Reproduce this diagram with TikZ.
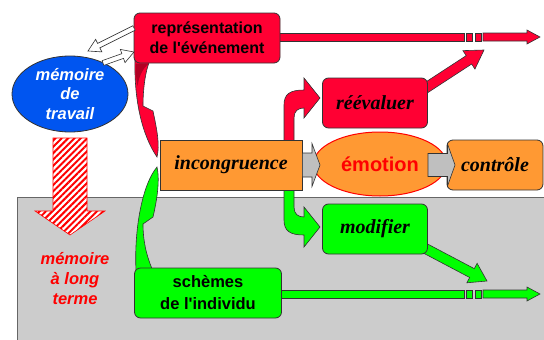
\documentclass[tikz,border=0pt]{standalone}
\usepackage{fontspec}
\setmainfont{Liberation Serif}
\setsansfont{Liberation Sans}
\usetikzlibrary{calc,shapes.geometric,patterns.meta,backgrounds}

\definecolor{alarm}{RGB}{255,0,51}
\definecolor{peach}{RGB}{255,153,51}
\definecolor{leaf}{RGB}{0,255,0}
\definecolor{sky}{RGB}{0,85,240}
\definecolor{ltmgray}{RGB}{204,204,204}

% block arrow: [style]{from}{to}{half shaft}{half head}{head length}
\newcommand{\blockarrow}[6][]{%
  \coordinate (hb) at ($(#3)!#6!(#2)$);
  \filldraw[#1] ($(#2)!#4!90:(#3)$) -- ($(hb)!#4!90:(#3)$) -- ($(hb)!#5!90:(#3)$) -- (#3)
    -- ($(hb)!#5!-90:(#3)$) -- ($(hb)!#4!-90:(#3)$) -- ($(#2)!#4!-90:(#3)$) -- cycle;}

\begin{document}
\begin{tikzpicture}[x=1pt, y=-1pt,
    box/.style={rectangle, rounded corners=6pt, minimum height=50pt, draw=black!80, line width=0.8pt, align=center, inner sep=1pt},
    sanstext/.style={font=\sffamily\bfseries\fontsize{16}{20}\selectfont},
    seriftext/.style={font=\bfseries\itshape\fontsize{20}{24}\selectfont},
    outline/.style={draw=black!80, line width=0.6pt}
]
\useasboundingbox (0,0) rectangle (544,340);

\node (rep) [box, sanstext, fill=alarm, minimum width=146pt] at (207,38) {représentation\\de l\textquotesingle événement};
\node (mem) [ellipse, draw=black!80, line width=0.8pt, fill=sky, minimum width=116pt, minimum height=76pt, inner sep=0pt, align=center, text=white, font=\sffamily\bfseries\itshape\fontsize{16.5}{19.5}\selectfont] at (70,94) {mémoire\\de\\travail};
\node (incong) [box, seriftext, sharp corners, fill=peach, minimum width=142pt] at (231,165) {incongruence};
\node (emo) [ellipse, draw=red, line width=1pt, fill=peach, minimum width=133pt, minimum height=64pt, inner sep=0pt, text=red, font=\sffamily\bfseries\fontsize{20}{24}\selectfont] at (380,164) {émotion};
\node (ctrl) [box, seriftext, fill=peach, minimum width=96pt] at (495,165) {contrôle};
\node (reev) [box, seriftext, fill=alarm, minimum width=105pt] at (375,103) {réévaluer};
\node (modif) [box, seriftext, fill=leaf, minimum width=105pt] at (375,229) {modifier};
\node (schemes) [box, sanstext, fill=leaf, minimum width=147pt, font=\sffamily\bfseries\fontsize{16.5}{22}\selectfont] at (208,293) {schèmes\\de l\textquotesingle individu};
\node (ltm) [align=center, text=red, font=\sffamily\bfseries\itshape\fontsize{16.5}{20}\selectfont] at (75,279) {mémoire\\à long\\terme};

\begin{pgfonlayer}{background}
  \filldraw[fill=ltmgray, draw=black!60, line width=1pt] (17,197) rectangle (550,350);
  % long arrows
  \filldraw[outline, fill=alarm] (276,33) rectangle (464,41) (466,33) rectangle (472,41) (475,33) rectangle (481,41);
  \blockarrow[outline, fill=alarm]{483,37}{540,37}{4pt}{7pt}{13pt}
  \filldraw[outline, fill=leaf] (278,290) rectangle (464,298) (466,290) rectangle (472,298) (475,290) rectangle (481,298);
  \blockarrow[outline, fill=leaf]{483,294}{540,294}{4pt}{7pt}{13pt}
  % curved arrows into incongruence
  \filldraw[outline, fill=alarm] (135,60) -- (150,60) .. controls (145,72) and (143,90) .. (143,106)
    -- (153,111) .. controls (157,130) and (160,145) .. (157,157)
    .. controls (142,135) and (134,100) .. (135,60) -- cycle;
  \fill[alarm!70!black] (135.5,63.5) -- (149,63.5) .. controls (143,68) and (139,76) .. (137.5,86)
    .. controls (136,78) and (135.5,70) .. (135.5,63.5) -- cycle;
  \filldraw[outline, fill=leaf] (136,271) -- (153,271) .. controls (146,255) and (143,240) .. (143,224)
    -- (153,217) .. controls (157,200) and (160,180) .. (157,167)
    .. controls (142,185) and (134,230) .. (136,271) -- cycle;
  % bent arrows out of incongruence
  \filldraw[outline, fill=alarm] (284,142) -- (284,105) .. controls (284,94) and (290,90) .. (304,90)
    -- (304,78) -- (320,98) -- (304,118) -- (304,108) .. controls (298,108) and (294,111) .. (294,118)
    -- (294,142) -- cycle;
  \filldraw[outline, fill=leaf] (284,188) -- (284,220) .. controls (284,231) and (290,235) .. (304,235)
    -- (304,247) -- (320,227) -- (304,207) -- (304,217) .. controls (298,217) and (294,214) .. (294,207)
    -- (294,188) -- cycle;
  % diagonal arrows
  \blockarrow[outline, fill=alarm]{415,95}{484,50}{5pt}{11pt}{18pt}
  \blockarrow[outline, fill=leaf]{415,243}{487,281}{5pt}{11pt}{17pt}
\end{pgfonlayer}

% gray arrows
\blockarrow[outline, fill=gray!50]{incong.east}{320,165}{12pt}{21.5pt}{8pt}
\blockarrow[outline, fill=gray!50]{428,165}{455,165}{11.5pt}{21pt}{7.5pt}
% white arrows
\blockarrow[outline, fill=white]{134,28}{88,51}{2.5pt}{7pt}{12pt}
\blockarrow[outline, fill=white]{103,63}{134,52}{2.5pt}{7pt}{12pt}
% hatched arrow
\blockarrow[draw=red, line width=0.6pt, preaction={fill=white}, pattern={Lines[angle=45,distance=4.5pt,line width=2pt]}, pattern color=red]{70,138}{70,235}{17pt}{35pt}{24pt}

\end{tikzpicture}
\end{document}
